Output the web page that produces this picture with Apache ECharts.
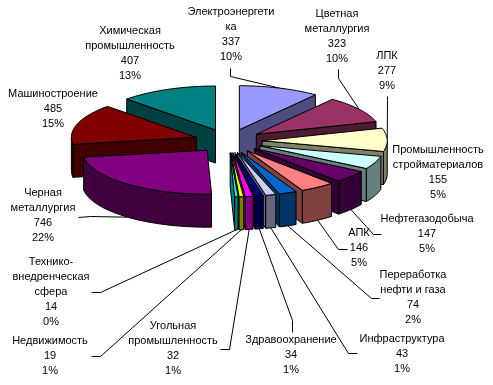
<!DOCTYPE html>
<html><head><meta charset="utf-8">
<style>html,body{margin:0;padding:0;background:#fff}#c{width:493px;height:385px}</style>
<script src="https://cdn.jsdelivr.net/npm/echarts@6/dist/echarts.min.js"></script>
</head><body><div id="c"></div>
<script>
const categories = ['Электроэнергети\nка','Цветная\nметаллургия','ЛПК','Промышленность\nстройматериалов','Нефтегазодобыча','АПК','Переработка\nнефти и газа','Инфраструктура','Здравоохранение','Угольная\nпромышленность','Недвижимость','Технико-\nвнедренческая\nсфера','Черная\nметаллургия','Машиностроение','Химическая\nпромышленность'];
const values = [337,323,277,155,147,146,74,43,34,32,19,14,746,485,407];
const percents = ['10%','10%','9%','5%','5%','5%','2%','1%','1%','1%','1%','0%','22%','15%','13%'];
const colors = ['#9999FF','#993366','#FFFFCC','#CCFFFF','#660066','#FF8080','#0066CC','#CCCCFF','#000080','#FF00FF','#FFFF00','#00FFFF','#800080','#800000','#008080'];
// label centre x, first line centre y
const labelPos = [[231,12],[337,14],[387,56],[438,150],[427,219],[359,233],[413,275],[402,339],[291,340],[173,326],[50,341],[51,262],[43,193],[53,94],[130,31]];
// leader elbows (screen px), the tip is computed from the slice rim; null = none
const leaderElbows = [[[230,68],[230,76]],[[338,69],[338,78]],[[387,96],[387,100]],null,[[381,234],[373,234]],[[347,249],[338,249]],[[379,298],[371,298]],[[357,353],[348,353]],[[292,332],[292,320]],[[220,349],[229,349]],[[91,356],[100,356]],[[91,292],[100,292]],[[78,217],[90,216]],null,null];

const CX=228.5, CY=141, RX=125, RY=44, H=33, EXPLODE=0.27;
const total = values.reduce((a,b)=>a+b,0);
const starts=[]; values.reduce((a,v,i)=>{starts[i]=a/total*Math.PI*2;return a+v;},0);
const sweep=i=>values[i]/total*Math.PI*2;
const mid=i=>starts[i]+sweep(i)/2;
const apex=i=>[CX+EXPLODE*RX*Math.sin(mid(i)),CY-EXPLODE*RY*Math.cos(mid(i))];
const rim=(i,a)=>{const p=apex(i);return [p[0]+RX*Math.sin(a),p[1]-RY*Math.cos(a)];};
function darker(hex){const n=parseInt(hex.slice(1),16);const f=c=>Math.round(c*0.5);return `rgb(${f(n>>16&255)},${f(n>>8&255)},${f(n&255)})`;}

function sliceItem(params,api){
  const i=api.value(0), stroke={stroke:'#000',lineWidth:1}, fillD=darker(colors[i]);
  const a0=starts[i],a1=a0+sweep(i),n=Math.max(2,Math.ceil(sweep(i)/0.03));
  const arc=[];for(let k=0;k<=n;k++)arc.push(rim(i,a0+(a1-a0)*k/n));
  const p=apex(i), kids=[];
  const wall=pts=>({type:'polygon',shape:{points:pts.concat(pts.slice().reverse().map(q=>[q[0],q[1]+H]))},style:Object.assign({fill:fillD},stroke)});
  // top polygon runs clockwise on screen: edges moving left are the front-facing ones
  const edges=[[arc[n],p],[p,arc[0]]];
  edges.forEach(e=>{if(e[1][0]<e[0][0]-1e-6)kids.push(wall(e));});
  let run=[];
  for(let k=0;k<n;k++){
    if(arc[k+1][0]<arc[k][0]){if(!run.length)run.push(arc[k]);run.push(arc[k+1]);}
    else if(run.length){kids.push(wall(run));run=[];}
  }
  if(run.length)kids.push(wall(run));
  kids.push({type:'polygon',shape:{points:[p].concat(arc)},style:Object.assign({fill:colors[i]},stroke)});
  return {type:'group',children:kids};
}
function labelItem(params,api){
  const i=api.value(0), kids=[];
  const el=leaderElbows[i];
  if(el){
    const m=mid(i), t=rim(i,m), front=Math.cos(m)<0;
    const tip=[t[0],t[1]+(front?H:0)];
    kids.push({type:'polyline',shape:{points:el.map(q=>[q[0]+0.5,q[1]+0.5]).concat([tip])},style:{stroke:'#000',lineWidth:1,fill:null}});
  }
  kids.push({type:'text',x:labelPos[i][0],y:labelPos[i][1]-7.5,style:{text:[categories[i],String(values[i]),percents[i]].join('\n'),font:'11px "Liberation Sans", Arial, sans-serif',lineHeight:15,fill:'#000',align:'center',verticalAlign:'top'}});
  return {type:'group',children:kids};
}
const order=values.map((_,i)=>i).sort((a,b)=>Math.cos(mid(b))-Math.cos(mid(a)));
const chart=echarts.init(document.getElementById('c'),null,{renderer:'canvas'});
chart.setOption({animation:false,backgroundColor:'#fff',
 series:[
  {type:'custom',coordinateSystem:'none',z:1,silent:true,renderItem:labelItem,data:values.map((v,i)=>[i,v])},
  {type:'custom',coordinateSystem:'none',z:2,silent:true,renderItem:sliceItem,data:order.map(i=>[i,values[i]])}
 ]});
</script></body></html>
